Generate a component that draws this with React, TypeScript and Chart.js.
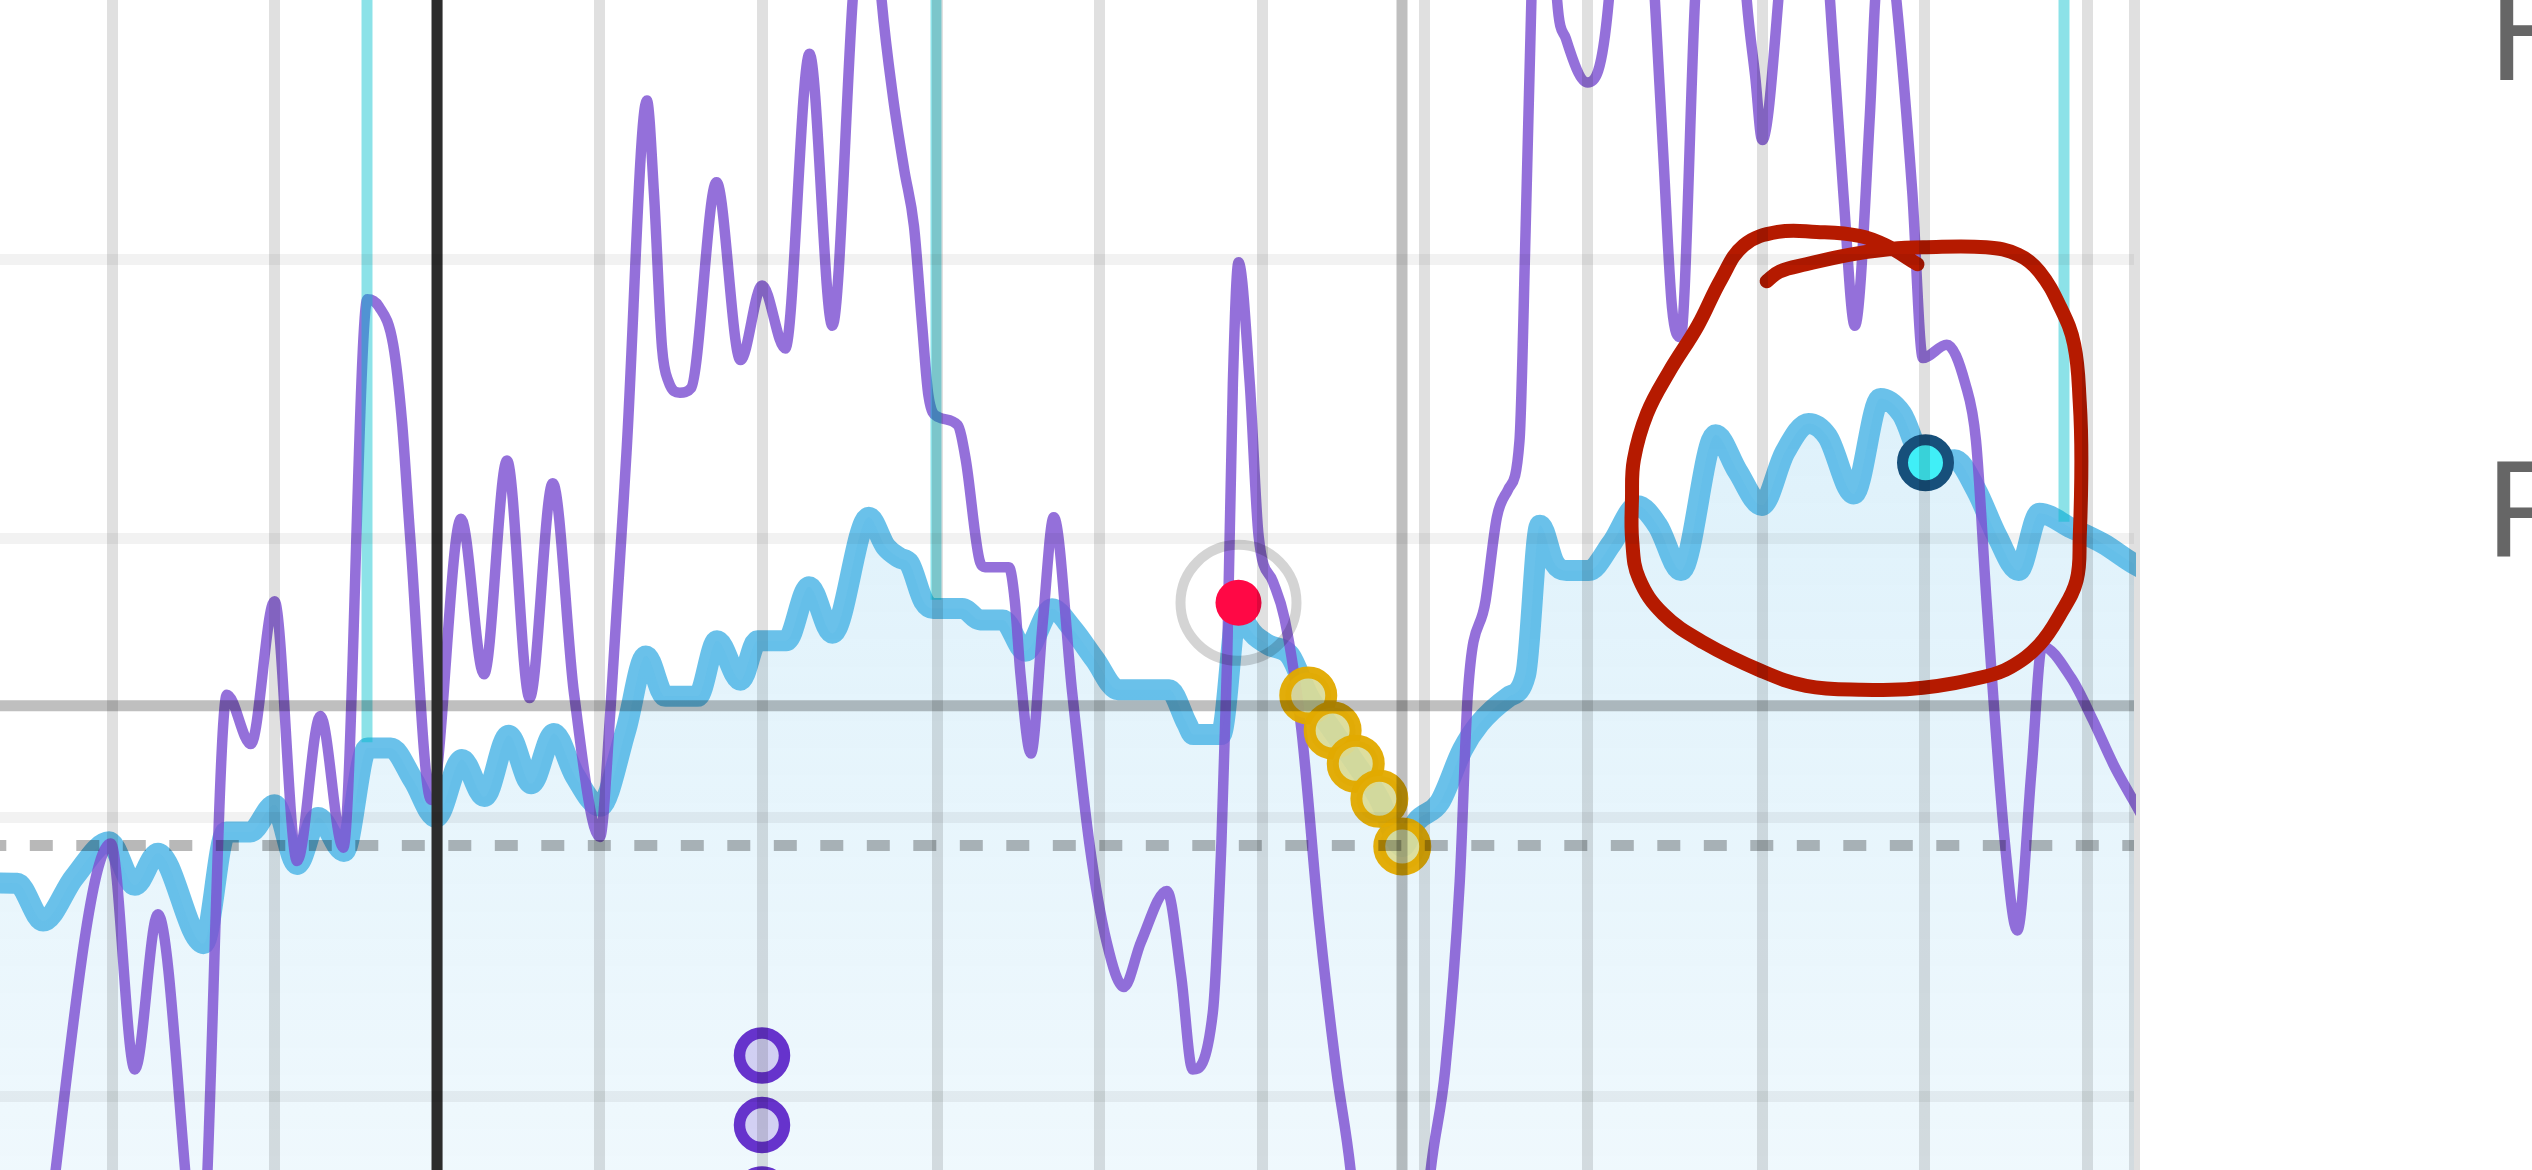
import React, { useEffect, useRef } from 'react';
import { Chart, registerables } from 'chart.js';

Chart.register(...registerables);

// ---- axis ranges and tick positions (data units) ----
const xRange: [number, number] = [-8.96, 161.76];
const yRange: [number, number] = [17.37, 59.29];
const xTickValues = [0, 13, 26, 39, 52, 66, 79, 92, 105, 118, 132, 145, 158, 161.76];
const yTickValues = [20, 30, 40, 50];

// ---- main filled series (blue) ----
const blueSeries: [number, number][] = [
  [-10, 27.65], [-7.6, 27.64], [-5.51, 26.29], [-3.02, 27.86], [-0.24, 29.13], [1.83, 27.57],
  [3.67, 28.72], [7.32, 25.48], [9.13, 29.48], [11.06, 29.48], [13.0, 30.46], [14.81, 28.32],
  [16.49, 30.0], [18.56, 28.78], [20.43, 32.49], [22.3, 32.49], [24.11, 31.33], [25.92, 30.0],
  [27.99, 32.08], [29.79, 30.75], [31.73, 32.95], [33.54, 31.21], [35.35, 33.01], [37.03, 31.5],
  [39.03, 30.4], [41.1, 33.12], [42.71, 35.79], [44.26, 34.34], [46.85, 34.34], [48.4, 36.33],
  [50.28, 34.92], [51.63, 36.33], [53.95, 36.33], [55.76, 38.27], [57.63, 36.6], [60.54, 40.76],
  [61.9, 39.7], [63.0, 39.3], [63.8, 39.1], [64.93, 37.75], [65.71, 37.49], [68.03, 37.49],
  [69.45, 37.08], [71.26, 37.08], [73.07, 35.96], [75.2, 37.48], [76.82, 36.77], [78.62, 35.67],
  [80.48, 34.58], [84.57, 34.58], [85.99, 33.37], [86.5, 32.97], [88.7, 32.97], [90.12, 37.69],
  [90.82, 36.88], [92.45, 36.2], [94.25, 35.8], [95.7, 34.37], [97.65, 33.12], [99.5, 31.93],
  [101.39, 30.67], [103.22, 28.96], [104.37, 29.86], [106.21, 30.54], [108.04, 32.43], [109.41, 33.37],
  [111.69, 34.31], [113.09, 35.12], [114.24, 40.47], [115.39, 39.12], [116.35, 38.85], [118.15, 38.85],
  [119.96, 39.81], [122.03, 41.17], [123.64, 40.47], [125.52, 38.85], [128.29, 43.71], [130.04, 42.41],
  [131.98, 41.18], [133.84, 43.09], [135.72, 44.12], [137.23, 43.66], [139.34, 41.59], [141.47, 45.01],
  [143.17, 44.47], [145.08, 42.71], [147.41, 42.82], [149.12, 41.75], [150.81, 40.08], [152.52, 38.85],
  [154.19, 40.9], [156.78, 40.36], [159.3, 39.81], [161.63, 39.12], [163.5, 38.68],
];

// ---- volatile series (purple) ----
const purpleSeries: [number, number][] = [
  [-6.12, 11.83], [-0.1, 29.07], [1.83, 20.97], [3.67, 26.53], [7.06, 13.56], [9.19, 34.4],
  [11.11, 32.63], [13.0, 37.75], [14.81, 28.44], [16.67, 33.64], [18.5, 28.92], [20.43, 48.57],
  [21.35, 48.31], [22.49, 46.95], [23.2, 44.18], [23.85, 40.07], [25.53, 30.63], [27.92, 40.7],
  [29.76, 35.13], [31.6, 42.79], [33.41, 34.28], [35.26, 41.98], [36.96, 34.45], [39.03, 29.3],
  [39.87, 33.82], [41.16, 43.08], [42.79, 55.69], [43.36, 52.34], [44.0, 46.84], [44.52, 45.62],
  [45.43, 45.22], [46.33, 45.39], [48.36, 52.76], [50.28, 46.39], [52.01, 49.06], [53.86, 46.8],
  [55.8, 57.36], [57.63, 47.62], [59.25, 59.28], [60.41, 66.2], [61.57, 59.28], [62.48, 55.81],
  [63.38, 53.2], [64.16, 51.18], [64.8, 47.71], [65.32, 45.1], [66.09, 44.35], [67.65, 44.06],
  [68.29, 42.85], [69.45, 39.14], [69.84, 38.97], [71.75, 38.97], [72.22, 37.78], [72.68, 35.12],
  [73.51, 32.29], [74.49, 37.14], [75.34, 40.76], [76.82, 34.45], [78.19, 29.07], [79.57, 25.54],
  [80.95, 23.93], [82.32, 25.54], [84.39, 27.37], [85.53, 24.33], [86.45, 20.97], [88.06, 22.99],
  [88.75, 29.07], [89.22, 35.79], [89.67, 45.56], [90.12, 49.89], [91.02, 45.56], [91.73, 40.08],
  [92.88, 38.45], [93.8, 37.14], [95.16, 33.12], [96.55, 26.35], [97.94, 20.97], [99.09, 17.35],
  [102.26, 1.41], [105.49, 17.35], [106.66, 20.97], [107.82, 27.71], [108.47, 34.45], [109.89, 37.78],
  [110.79, 40.76], [111.69, 41.75], [112.6, 43.5], [113.09, 51.06], [113.55, 59.28], [114.41, 70.85],
  [115.61, 59.28], [116.31, 57.91], [118.05, 56.33], [119.74, 59.28], [121.51, 73.75], [123.43, 59.28],
  [124.1, 53.78], [124.8, 48.28], [125.49, 47.21], [126.64, 59.28], [128.62, 73.75], [130.78, 59.28],
  [131.46, 56.54], [132.02, 54.27], [133.3, 59.28], [135.34, 73.75], [137.44, 59.28], [138.5, 52.42],
  [139.43, 47.62], [140.63, 55.17], [141.05, 59.28], [141.8, 62.75], [142.75, 59.28], [144.02, 52.42],
  [144.87, 46.46], [146.78, 46.94], [148.25, 45.56], [149.12, 43.5], [149.96, 37.78], [151.44, 29.05],
  [152.42, 25.95], [153.57, 31.75], [154.41, 36.13], [156.75, 34.99], [158.46, 33.5], [160.14, 31.88],
  [161.63, 30.67], [163.5, 29.19],
];

// ---- hand-drawn highlight loop (red) ----
const loopPath: [number, number][] = [
  [132.37, 49.21], [133.4, 49.56], [135.53, 49.82], [138.95, 50.16], [142.31, 50.37], [144.89, 50.43],
  [149.93, 50.43], [152.52, 50.16], [154.19, 49.56], [155.87, 48.28], [156.97, 46.95], [157.42, 44.87],
  [157.55, 42.79], [157.42, 40.07], [157.17, 38.5], [155.87, 37.29], [154.19, 36.19], [151.87, 35.38],
  [149.93, 35.06], [144.87, 34.65], [139.78, 34.58], [135.53, 34.72], [131.91, 35.26], [127.32, 36.27],
  [124.1, 37.29], [122.16, 38.56], [121.62, 39.89], [121.6, 41.46], [121.75, 42.82], [122.8, 44.47],
  [124.57, 45.97], [126.86, 47.62], [128.71, 49.27], [130.54, 50.5], [133.27, 50.98], [136.37, 50.98],
  [139.78, 50.84], [141.9, 50.5], [144.44, 49.82],
];

// ---- markers ----
const yellowPoints: [number, number][] = [
  [95.7, 34.37], [97.65, 33.12], [99.5, 31.93], [101.39, 30.67], [103.22, 28.96],
];
const redPoint: [number, number] = [90.12, 37.69];
const cyanPoint: [number, number] = [145.08, 42.71];
const violetMarkers: [number, number][] = [[52, 21.47], [52, 18.98], [52, 16.49]];

// ---- drop lines and reference lines ----
const dropLineX = [20.4, 65.92, 156.16];
const dropLineBase = [32.7, 37.8, 40.6];
const dropLineTop = 70;
const blackLineX = 26;
const greyLineX = 103.2;
const solidLevel = 34;
const dashedLevel = 29;

const sideLabels = ['Humidity', 'Feels like'];

const xy = (p: [number, number]) => ({ x: p[0], y: p[1] });

const sideLabelPlugin = {
  id: 'sideLabels',
  afterDraw(chart: any) {
    const { ctx, chartArea } = chart;
    ctx.save();
    ctx.fillStyle = '#666666';
    ctx.font = '138px "Liberation Sans", Arial, Helvetica, sans-serif';
    ctx.textAlign = 'left';
    ctx.textBaseline = 'alphabetic';
    ctx.fillText(sideLabels[0], chartArea.right + 355, 80);
    ctx.fillText(sideLabels[1], chartArea.right + 352, 556);
    ctx.restore();
  },
};

export default function App() {
  const ref = useRef<HTMLCanvasElement>(null);

  useEffect(() => {
    const canvas = ref.current;
    if (!canvas) return;

    const fillGradient = (c: any) => {
      const chart = c.chart;
      const area = chart.chartArea;
      if (!area) return 'rgba(100,190,235,0.18)';
      const g = chart.ctx.createLinearGradient(0, area.top, 0, area.bottom);
      g.addColorStop(0, 'rgba(100,190,235,0.27)');
      g.addColorStop(1, 'rgba(100,190,235,0.10)');
      return g;
    };

    const refLine = (pts: { x: number; y: number }[], color: string, order: number, extra: any = {}) => ({
      data: pts,
      borderColor: color,
      borderWidth: 11,
      borderCapStyle: 'butt',
      pointRadius: 0,
      tension: 0,
      fill: false,
      order,
      ...extra,
    });

    const pointSet = (pts: [number, number][], radius: number, bw: number, bg: string, border: string, order: number) => ({
      data: pts.map(xy),
      showLine: false,
      pointRadius: radius,
      pointBorderWidth: bw,
      pointBackgroundColor: bg,
      pointBorderColor: border,
      borderColor: border,
      backgroundColor: bg,
      fill: false,
      order,
    });

    const dropLines = dropLineX.map((x, i) =>
      refLine([{ x, y: dropLineBase[i] }, { x, y: dropLineTop }], 'rgba(0,190,205,0.45)', 8)
    );

    const chart = new Chart(canvas, {
      type: 'line',
      data: {
        datasets: [
          refLine([{ x: blackLineX, y: yRange[0] }, { x: blackLineX, y: yRange[1] }], '#333333', 0),
          refLine([{ x: xRange[0], y: solidLevel }, { x: xRange[1], y: solidLevel }], 'rgba(0,0,0,0.25)', 1),
          refLine([{ x: xRange[0], y: dashedLevel }, { x: xRange[1], y: dashedLevel }], 'rgba(0,0,0,0.28)', 1, {
            borderDash: [23, 23.5],
            borderDashOffset: 16.7,
          }),
          refLine([{ x: greyLineX, y: yRange[0] }, { x: greyLineX, y: yRange[1] }], 'rgba(0,0,0,0.25)', 1),
          {
            data: loopPath.map(xy),
            borderColor: '#b51a00',
            borderWidth: 14,
            borderCapStyle: 'round',
            borderJoinStyle: 'round',
            tension: 0.4,
            cubicInterpolationMode: 'default',
            pointRadius: 0,
            fill: false,
            order: 2,
          },
          pointSet([cyanPoint], 23, 11, '#40eff7', '#17507b', 3),
          pointSet(yellowPoints, 23, 12, 'rgba(218,219,152,0.93)', 'rgba(226,170,0,0.96)', 4),
          pointSet([redPoint], 23, 0, '#ff0845', '#ff0845', 5),
          pointSet([redPoint], 58, 10, 'rgba(0,0,0,0)', 'rgba(0,0,0,0.17)', 6),
          pointSet(violetMarkers, 22.5, 11.5, 'rgba(102,51,204,0.2)', '#6633cc', 7),
          ...dropLines,
          {
            data: purpleSeries.map(xy),
            borderColor: 'rgba(125,80,210,0.82)',
            borderWidth: 10.5,
            borderJoinStyle: 'round',
            borderCapStyle: 'round',
            cubicInterpolationMode: 'monotone',
            pointRadius: 0,
            fill: false,
            clip: 2,
            order: 9,
          },
          {
            data: blueSeries.map(xy),
            borderColor: 'rgba(80,182,230,0.85)',
            backgroundColor: fillGradient,
            borderWidth: 21,
            borderJoinStyle: 'round',
            borderCapStyle: 'round',
            cubicInterpolationMode: 'monotone',
            pointRadius: 0,
            fill: 'start',
            clip: 2,
            order: 10,
          },
        ] as any,
      },
      options: {
        animation: false,
        responsive: false,
        devicePixelRatio: 1,
        events: [],
        layout: { autoPadding: false, padding: { left: 0, top: 0, bottom: 0, right: 398 } },
        elements: { line: { capBezierPoints: false } },
        plugins: {
          legend: { display: false },
          tooltip: { enabled: false },
          title: { display: false },
        },
        scales: {
          x: {
            type: 'linear',
            min: xRange[0],
            max: xRange[1],
            ticks: { display: false },
            border: { display: false },
            grid: { color: 'rgba(0,0,0,0.12)', lineWidth: 11, drawTicks: false, z: 1 },
            afterBuildTicks: (s: any) => {
              s.ticks = xTickValues.map((v) => ({ value: v }));
            },
          },
          y: {
            type: 'linear',
            min: yRange[0],
            max: yRange[1],
            ticks: { display: false },
            border: { display: false },
            grid: { color: 'rgba(0,0,0,0.05)', lineWidth: 11, drawTicks: false, z: 1 },
            afterBuildTicks: (s: any) => {
              s.ticks = yTickValues.map((v) => ({ value: v }));
            },
          },
        },
      } as any,
      plugins: [sideLabelPlugin],
    });

    return () => chart.destroy();
  }, []);

  return (
    <div
      style={{
        position: 'fixed',
        left: 0,
        top: 0,
        width: '2532px',
        height: '1170px',
        overflow: 'hidden',
        background: '#ffffff',
      }}
    >
      <canvas
        ref={ref}
        width={2532}
        height={1170}
        style={{ display: 'block', width: '2532px', height: '1170px' }}
      />
    </div>
  );
}
